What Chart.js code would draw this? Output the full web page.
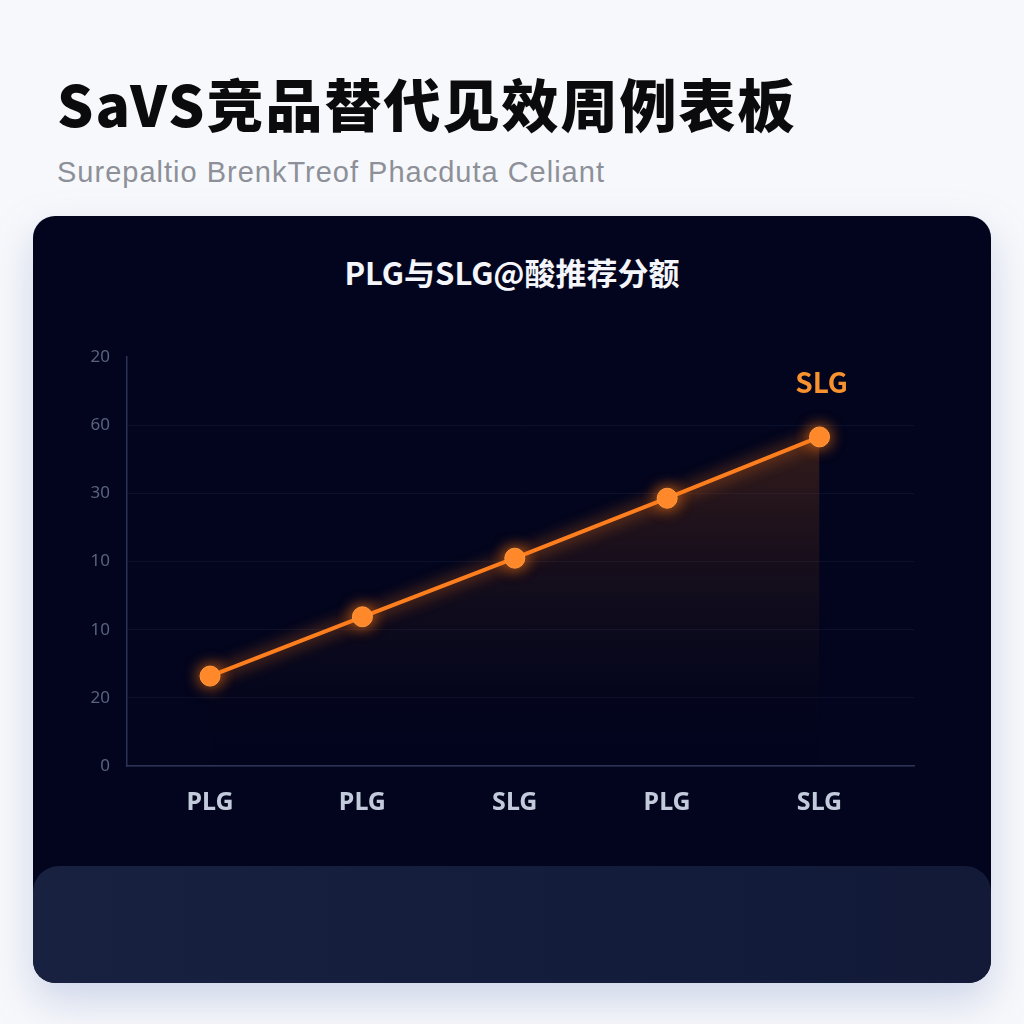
<!DOCTYPE html>
<html lang="zh">
<head>
<meta charset="utf-8">
<script src="https://cdn.jsdelivr.net/npm/chart.js@4.4.1/dist/chart.umd.min.js"></script>
<style>
  html, body {
    margin: 0;
    padding: 0;
    width: 1024px;
    height: 1024px;
    overflow: hidden;
    background: #f7f8fb;
    font-family: "Noto Sans CJK SC", "Noto Sans", sans-serif;
  }
  .page-title {
    position: absolute;
    left: 57px;
    top: 62px;
    margin: 0;
    font-size: 57px;
    font-weight: 900;
    letter-spacing: 2px;
    color: #0b0b0d;
    line-height: 80px;
  }
  .page-sub {
    position: absolute;
    left: 57px;
    top: 152px;
    margin: 0;
    font-family: "Liberation Sans", "Noto Sans", sans-serif;
    font-size: 29px;
    letter-spacing: 1px;
    color: #8d9098;
    line-height: 40px;
  }
  .card {
    position: absolute;
    left: 33px;
    top: 216px;
    width: 958px;
    height: 767px;
    border-radius: 22px;
    background: #02051d;
    box-shadow: 0 18px 40px rgba(130, 150, 200, 0.35);
    overflow: hidden;
  }
  .card-title {
    position: absolute;
    left: 0;
    top: 33px;
    width: 100%;
    text-align: center;
    font-size: 31px;
    font-weight: 700;
    color: #f4f6fb;
  }
  .card-foot {
    position: absolute;
    left: 0;
    top: 650px;
    width: 958px;
    height: 117px;
    border-radius: 26px 26px 22px 22px;
    background: linear-gradient(90deg, #18213f, #141c3c 60%, #121a38);
  }
  .chart-box {
    position: absolute;
    left: 0;
    top: 114px;
    width: 958px;
    height: 520px;
  }
</style>
</head>
<body>
<h1 class="page-title">SaVS竞品替代见效周例表板</h1>
<p class="page-sub">Surepaltio BrenkTreof Phacduta Celiant</p>
<div class="card">
  <div class="card-title">PLG与SLG@酸推荐分额</div>
  <div class="chart-box"><canvas id="shareChart"></canvas></div>
  <div class="card-foot"></div>
</div>
<script>
const CATEGORIES = ["PLG", "PLG", "SLG", "PLG", "SLG"];
const SHARE_VALUES = [13.2, 21.9, 30.5, 39.3, 48.3];
const Y_TICK_LABELS = ["0", "20", "10", "10", "30", "60", "20"];
const END_LABEL = "SLG";

const ORANGE = "#ff7f1f";

const glowPlugin = {
  id: "glow",
  beforeDatasetDraw(chart) {
    const ctx = chart.ctx;
    ctx.save();
    ctx.shadowColor = "rgba(255, 120, 20, 0.9)";
    ctx.shadowBlur = 16;
  },
  afterDatasetDraw(chart) {
    chart.ctx.restore();
  },
};

const endLabelPlugin = {
  id: "endLabel",
  afterDatasetsDraw(chart) {
    const meta = chart.getDatasetMeta(0);
    const last = meta.data[meta.data.length - 1];
    if (!last) return;
    const ctx = chart.ctx;
    ctx.save();
    ctx.font = "bold 28px 'Noto Sans CJK SC', 'Noto Sans', sans-serif";
    ctx.fillStyle = "#f7922e";
    ctx.textAlign = "center";
    ctx.textBaseline = "middle";
    ctx.fillText(END_LABEL, last.x + 2, last.y - 55);
    ctx.restore();
  },
};

function areaGradient(context) {
  const area = context.chart.chartArea;
  if (!area) return "rgba(255,120,30,0.1)";
  const g = context.chart.ctx.createLinearGradient(0, area.top + 60, 0, area.bottom);
  g.addColorStop(0, "rgba(140, 70, 25, 0.40)");
  g.addColorStop(0.55, "rgba(90, 45, 25, 0.16)");
  g.addColorStop(1, "rgba(20, 15, 30, 0.0)");
  return g;
}

const points = SHARE_VALUES.map((v, i) => ({ x: i, y: v }));

new Chart(document.getElementById("shareChart"), {
  type: "line",
  data: {
    datasets: [
      {
        label: "份额",
        data: points,
        borderColor: ORANGE,
        borderWidth: 4,
        backgroundColor: areaGradient,
        fill: "origin",
        tension: 0,
        pointRadius: 10,
        pointHoverRadius: 10,
        pointBackgroundColor: "#ff8a2c",
        pointBorderColor: "#ff9a40",
        pointBorderWidth: 1,
      },
    ],
  },
  options: {
    responsive: true,
    maintainAspectRatio: false,
    animation: false,
    layout: {
      padding: { top: 22, right: 77, bottom: 0, left: 0 },
    },
    plugins: {
      legend: { display: false },
      tooltip: { enabled: false },
      filler: { drawTime: "beforeDatasetsDraw" },
    },
    scales: {
      x: {
        type: "linear",
        min: -0.545,
        max: 4.62,
        afterFit(scale) {
          scale.height = 84;
        },
        grid: { display: false, drawTicks: false },
        border: { color: "#2c3354", width: 1.5 },
        ticks: {
          stepSize: 1,
          includeBounds: false,
          autoSkip: false,
          maxRotation: 0,
          color: "#c3cadc",
          padding: 22,
          font: { family: "'Noto Sans', 'DejaVu Sans', sans-serif", size: 25, weight: "bold" },
          callback(value) {
            return Number.isInteger(value) ? CATEGORIES[value] || "" : "";
          },
        },
      },
      y: {
        min: 0,
        max: 60,
        afterFit(scale) {
          scale.width = 94;
        },
        grid: {
          drawTicks: false,
          color(ctx) {
            return ctx.index === Y_TICK_LABELS.length - 1
              ? "rgba(0,0,0,0)"
              : "rgba(70, 80, 120, 0.16)";
          },
        },
        border: { color: "#2c3354", width: 1.5 },
        ticks: {
          stepSize: 10,
          padding: 17,
          color: "#5b627e",
          font: { family: "'Noto Sans', 'DejaVu Sans', sans-serif", size: 17 },
          callback(value, index) {
            return Y_TICK_LABELS[index];
          },
        },
      },
    },
  },
  plugins: [glowPlugin, endLabelPlugin],
});
</script>
</body>
</html>
